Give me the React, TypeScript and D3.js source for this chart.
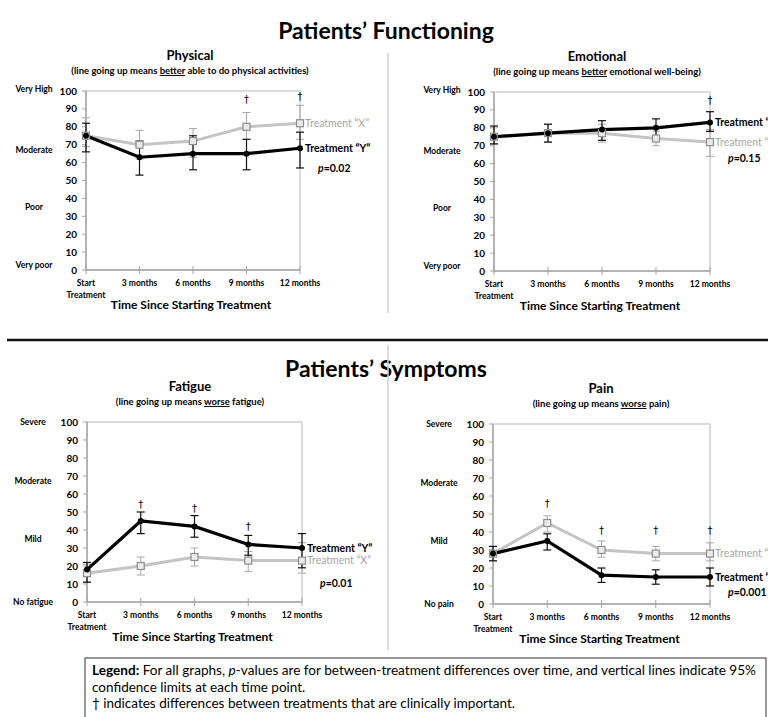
import * as d3 from "d3"

// time points along x
const timeLabels = [["Start", "Treatment"], ["3 months"], ["6 months"], ["9 months"], ["12 months"]]
const yTicks = [0, 10, 20, 30, 40, 50, 60, 70, 80, 90, 100]

// Physical functioning
const physicalX = [75, 70, 72, 80, 82]
const physicalXLow = [69, 62, 63, 73, 73]
const physicalXHigh = [85, 78, 79, 88, 92]
const physicalY = [75, 63, 65, 65, 68]
const physicalYLow = [66, 53, 56, 56, 57]
const physicalYHigh = [82, 72, 75, 73, 77]
const physicalDagger = [null, null, null, 95, 97]

// Emotional functioning
const emotionalX = [75, 77, 77, 74, 72]
const emotionalXLow = [71, 72, 72, 70, 64]
const emotionalXHigh = [80, 82, 82, 78, 79]
const emotionalY = [75, 77, 79, 80, 83]
const emotionalYLow = [71, 72, 73, 75, 78]
const emotionalYHigh = [81, 82, 84, 85, 89]
const emotionalDagger = [null, null, null, null, 95]

// Fatigue
const fatigueX = [16, 20, 25, 23, 23]
const fatigueXLow = [11, 15, 20, 17, 16]
const fatigueXHigh = [21, 25, 30, 28, 33]
const fatigueY = [18, 45, 42, 32, 30]
const fatigueYLow = [11, 38, 36, 26, 19]
const fatigueYHigh = [22, 50, 48, 37, 38]
const fatigueDagger = [null, 54, 52, 42, null]

// Pain
const painX = [28, 45, 30, 28, 28]
const painXLow = [24, 40, 26, 24, 24]
const painXHigh = [32, 49, 35, 32, 34]
const painY = [28, 35, 16, 15, 15]
const painYLow = [24, 30, 12, 11, 10]
const painYHigh = [32, 39, 20, 19, 20]
const painDagger = [null, 56, 41, 41, 41]

const FONT = "Lato, 'Open Sans', sans-serif"
const GREY_LINE = "#c4c4c4"
const GREY_BAR = "#a8a8a8"
const AXIS = "#a6a6a6"

type Series = { v: number[]; lo: number[]; hi: number[] }

interface PanelProps {
  left: number
  right: number
  top: number
  bottom: number
  cx: number
  title: string
  subPre: string
  subWord: string
  subPost: string
  levels: string[]
  levelVals: number[]
  levelX: number
  seriesX: Series
  seriesY: Series
  daggers: (number | null)[]
  pText: string
  pDy: number
}

function Panel(p: PanelProps) {
  const x = d3.scalePoint<number>().domain(d3.range(timeLabels.length)).range([p.left, p.right])
  const y = d3.scaleLinear().domain([0, 100]).range([p.bottom, p.top])
  const line = d3.line<number>().x((_, i) => x(i)!).y(d => y(d))
  const last = timeLabels.length - 1

  const errBars = (s: Series, color: string, w: number) =>
    s.v.map((_, i) => (
      <g key={i} stroke={color} strokeWidth={w}>
        <line x1={x(i)} x2={x(i)} y1={y(s.lo[i])} y2={y(s.hi[i])} />
        <line x1={x(i)! - 4} x2={x(i)! + 4} y1={y(s.lo[i])} y2={y(s.lo[i])} />
        <line x1={x(i)! - 4} x2={x(i)! + 4} y1={y(s.hi[i])} y2={y(s.hi[i])} />
      </g>
    ))

  return (
    <g fontFamily={FONT}>
      <text x={p.cx} y={p.top - 31} textAnchor="middle" fontSize={13} fontWeight="bold">{p.title}</text>
      <text x={p.cx} y={p.top - 17} textAnchor="middle" fontSize={9.5} fontWeight="bold">
        {p.subPre}<tspan textDecoration="underline">{p.subWord}</tspan>{p.subPost}
      </text>

      {/* frame */}
      <rect x={p.left} y={p.top} width={p.right - p.left} height={p.bottom - p.top} fill="none" stroke="#cfcfcf" strokeWidth={1.5} />
      <line x1={p.left} x2={p.left} y1={p.top} y2={p.bottom} stroke={AXIS} strokeWidth={1.5} />
      <line x1={p.left} x2={p.right} y1={p.bottom} y2={p.bottom} stroke={AXIS} strokeWidth={1.5} />

      {yTicks.map(t => (
        <g key={t}>
          <line x1={p.left - 4} x2={p.left} y1={y(t)} y2={y(t)} stroke={AXIS} />
          <text x={p.left - 9} y={y(t)} dy="0.35em" textAnchor="end" fontSize={10} fontWeight="bold">{t}</text>
        </g>
      ))}
      {p.levels.map((l, i) => (
        <text key={l} x={p.levelX} y={y(p.levelVals[i])} dy="0.35em" textAnchor="middle" fontSize={8.5} fontWeight="bold">{l}</text>
      ))}

      {timeLabels.map((lab, i) => (
        <g key={i}>
          <line x1={x(i)} x2={x(i)} y1={p.bottom - 4} y2={p.bottom + 4} stroke={AXIS} />
          {lab.map((s, j) => (
            <text key={s} x={x(i)} y={p.bottom + 16 + j * 12} textAnchor="middle" fontSize={8.5} fontWeight="bold">{s}</text>
          ))}
        </g>
      ))}
      <text x={(p.left + p.right) / 2 - 2} y={p.bottom + 39} textAnchor="middle" fontSize={12} fontWeight="bold">Time Since Starting Treatment</text>

      {errBars(p.seriesX, GREY_BAR, 1)}
      {errBars(p.seriesY, "#111", 1.2)}

      <path d={line(p.seriesX.v)!} fill="none" stroke={GREY_LINE} strokeWidth={3} />
      <path d={line(p.seriesY.v)!} fill="none" stroke="#000" strokeWidth={3.2} />

      {p.seriesX.v.map((v, i) => (
        <rect key={i} x={x(i)! - 3.5} y={y(v) - 3.5} width={7} height={7} fill="#eaeaea" stroke="#8c8c8c" strokeWidth={1.2} />
      ))}
      {p.seriesY.v.map((v, i) => (
        <circle key={i} cx={x(i)} cy={y(v)} r={3} fill="#000" />
      ))}

      {p.daggers.map((d, i) => d === null ? null : (
        <text key={i} x={x(i)} y={y(d)} dy="0.35em" textAnchor="middle" fontFamily="'DejaVu Sans', sans-serif" fontSize={10} fill="#000">†</text>
      ))}

      <text x={x(last)! + 5} y={y(p.seriesX.v[last])} dy="0.35em" fontSize={10.5} fill="#a6a6a6">Treatment “X”</text>
      <text x={x(last)! + 5} y={y(p.seriesY.v[last])} dy="0.35em" fontSize={10.5} fontWeight="bold">Treatment “Y”</text>
      <text x={x(last)! + 18} y={y(p.seriesY.v[last]) + p.pDy} dy="0.35em" fontSize={10.5} fontWeight="bold">
        <tspan fontStyle="italic">p</tspan>={p.pText}
      </text>
    </g>
  )
}

export default function App() {
  return (
    <svg width={768} height={717} style={{ position: "absolute", left: 0, top: 0, background: "#fff" }}>
      <rect width={768} height={717} fill="#fff" />
      <text x={386} y={39} textAnchor="middle" fontFamily={FONT} fontSize={23} fontWeight="bold">Patients’ Functioning</text>
      <text x={386} y={377} textAnchor="middle" fontFamily={FONT} fontSize={23} fontWeight="bold">Patients’ Symptoms</text>

      <line x1={388} x2={388} y1={53} y2={313} stroke="#d0d0d0" strokeWidth={1.5} />
      <line x1={388} x2={388} y1={345} y2={650} stroke="#d0d0d0" strokeWidth={1.5} />
      <line x1={7} x2={768} y1={340} y2={340} stroke="#111" strokeWidth={2.5} />

      <Panel left={86} right={300} top={91} bottom={270} cx={190}
        title="Physical" subPre="(line going up means " subWord="better" subPost=" able to do physical activities)"
        levels={["Very High", "Moderate", "Poor", "Very poor"]} levelVals={[101, 67, 35, 3]} levelX={34}
        seriesX={{ v: physicalX, lo: physicalXLow, hi: physicalXHigh }}
        seriesY={{ v: physicalY, lo: physicalYLow, hi: physicalYHigh }}
        daggers={physicalDagger} pText="0.02" pDy={20} />

      <Panel left={494} right={710} top={92} bottom={271} cx={597}
        title="Emotional" subPre="(line going up means " subWord="better" subPost=" emotional well-being)"
        levels={["Very High", "Moderate", "Poor", "Very poor"]} levelVals={[101, 67, 35, 3]} levelX={442}
        seriesX={{ v: emotionalX, lo: emotionalXLow, hi: emotionalXHigh }}
        seriesY={{ v: emotionalY, lo: emotionalYLow, hi: emotionalYHigh }}
        daggers={emotionalDagger} pText="0.15" pDy={36} />

      <Panel left={87} right={302} top={422} bottom={602} cx={190}
        title="Fatigue" subPre="(line going up means " subWord="worse" subPost=" fatigue)"
        levels={["Severe", "Moderate", "Mild", "No fatigue"]} levelVals={[100, 67, 35, 0]} levelX={33}
        seriesX={{ v: fatigueX, lo: fatigueXLow, hi: fatigueXHigh }}
        seriesY={{ v: fatigueY, lo: fatigueYLow, hi: fatigueYHigh }}
        daggers={fatigueDagger} pText="0.01" pDy={35} />

      <Panel left={493} right={710} top={424} bottom={604} cx={601}
        title="Pain" subPre="(line going up means " subWord="worse" subPost=" pain)"
        levels={["Severe", "Moderate", "Mild", "No pain"]} levelVals={[100, 67, 35, 0]} levelX={439}
        seriesX={{ v: painX, lo: painXLow, hi: painXHigh }}
        seriesY={{ v: painY, lo: painYLow, hi: painYHigh }}
        daggers={painDagger} pText="0.001" pDy={15} />

      <rect x={85} y={658} width={681} height={80} fill="none" stroke="#333" strokeWidth={1} />
      <g fontFamily={FONT} fontSize={13.5}>
        <text x={92} y={675} textLength={664} lengthAdjust="spacingAndGlyphs">
          <tspan fontWeight="bold">Legend:</tspan> For all graphs, <tspan fontStyle="italic">p</tspan>-values are for between-treatment differences over time, and vertical lines indicate 95%
        </text>
        <text x={92} y={692}>confidence limits at each time point.</text>
        <text x={92} y={708}>† indicates differences between treatments that are clinically important.</text>
      </g>
    </svg>
  )
}
